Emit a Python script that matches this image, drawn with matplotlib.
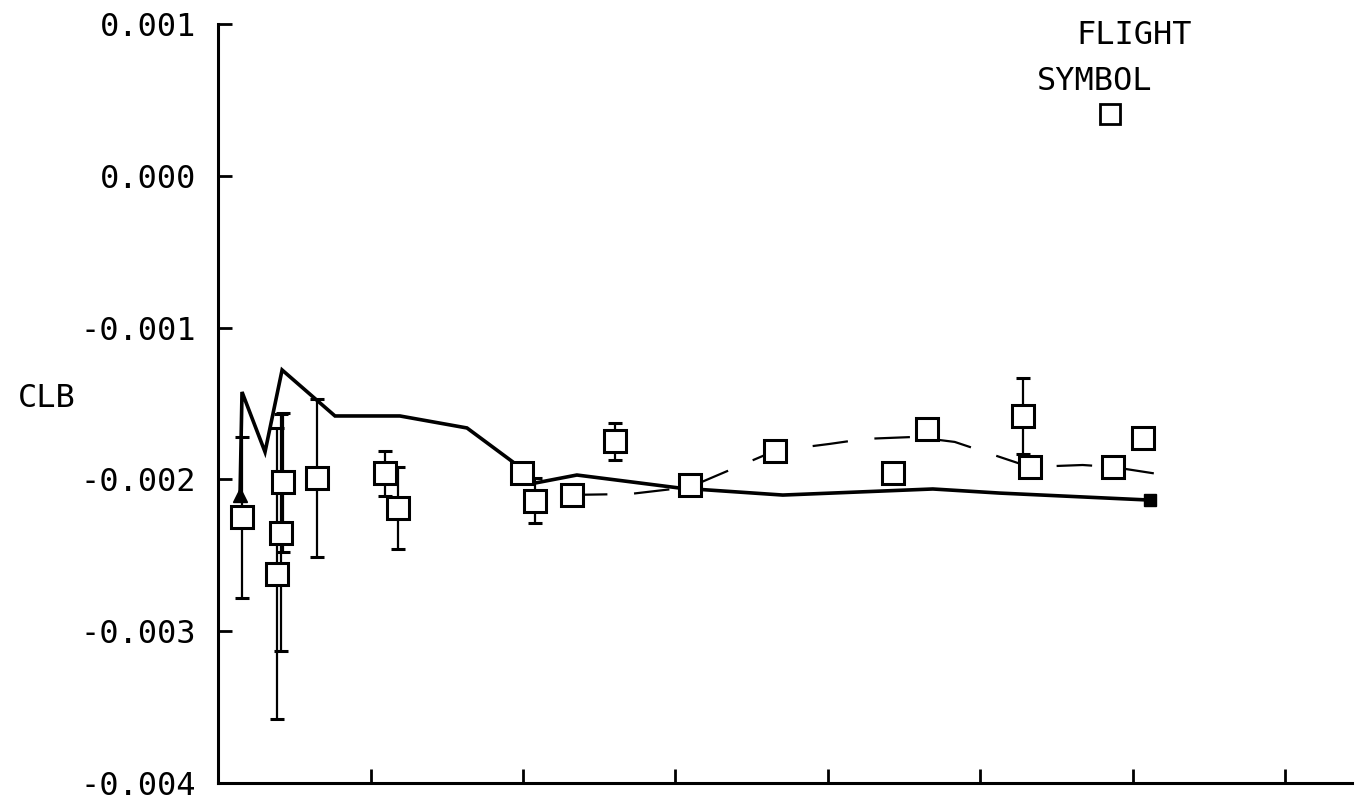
import numpy as np
import matplotlib
matplotlib.use("Agg")
import matplotlib.pyplot as plt

# flight data points (x in tick units, no x labels on original)
pt_x = [0.157, 0.426, 0.413, 0.387, 0.649, 1.095, 1.180, 1.993, 2.079, 2.321,
        2.603, 3.095, 3.652, 4.426, 4.649, 5.279, 5.325, 5.869, 6.066]
pt_y = [-0.00225, -0.00202, -0.00235, -0.00262, -0.00199, -0.00196, -0.00219,
        -0.00196, -0.00214, -0.00210, -0.00175, -0.00204, -0.00181, -0.00196,
        -0.00167, -0.00158, -0.00192, -0.00192, -0.00173]
pt_err = [0.00053, 0.00046, 0.00078, 0.00096, 0.00052, 0.00015, 0.00027,
          0.00004, 0.00015, 0.00004, 0.00012, 0.00004, 0.00004, 0.00004,
          0.00004, 0.00025, 0.00004, 0.00004, 0.00004]

# solid curve
sol_x = [0.144, 0.157, 0.308, 0.420, 0.767, 1.193, 1.633, 1.934, 2.079,
         2.354, 3.030, 3.705, 4.689, 5.128, 6.111]
sol_y = [-0.002103, -0.001424, -0.001819, -0.001279, -0.001582, -0.001582,
         -0.001661, -0.001885, -0.002024, -0.001971, -0.002057, -0.002103,
         -0.002063, -0.002090, -0.002136]

# dashed curve
dash_x = [2.321, 2.702, 3.095, 3.652, 4.013, 4.243, 4.570, 4.833, 5.325,
          5.672, 5.869, 6.210]
dash_y = [-0.002102, -0.002096, -0.002050, -0.001812, -0.001766, -0.001733,
          -0.001720, -0.001753, -0.001918, -0.001905, -0.001918, -0.001971]

yticks = [0.001, 0.000, -0.001, -0.002, -0.003, -0.004]
ytick_labels = ["0.001", "0.000", "-0.001", "-0.002", "-0.003", "-0.004"]

plt.rcParams['font.family'] = ['DejaVu Sans Mono']

fig = plt.figure(figsize=(13.63, 8.02), dpi=100)
ax = fig.add_axes([0.160, 0.0237, 0.832, 0.9463])

ax.plot(sol_x, sol_y, color='black', lw=2.6, solid_joinstyle='miter')
ax.plot(sol_x[0], sol_y[0], marker='^', color='black', ms=10)
ax.plot(sol_x[-1], sol_y[-1], marker='s', color='black', ms=8)

ax.plot(dash_x, dash_y, color='black', lw=1.6, dashes=(16, 12))

ax.errorbar(pt_x, pt_y, yerr=pt_err, fmt='s', mfc='white', mec='black',
            mew=2.2, ms=16, ecolor='black', elinewidth=1.6, capsize=4.7,
            capthick=2.4, zorder=3)

ax.set_xlim(0, 7.44)
ax.set_ylim(-0.004, 0.001)
ax.set_xticks(range(0, 8))
ax.set_xticklabels([])
ax.set_yticks(yticks)
ax.set_yticklabels(ytick_labels, fontsize=23)

for s in ['top', 'right']:
    ax.spines[s].set_visible(False)
for s in ['left', 'bottom']:
    ax.spines[s].set_linewidth(2.2)
ax.tick_params(axis='both', direction='in', length=10, width=2)
ax.tick_params(axis='y', pad=16)

fig.text(18 / 1363, 1 - 398 / 802, "CLB", fontsize=23, ha='left', va='center')
fig.text(1134 / 1363, 1 - 35 / 802, "FLIGHT", fontsize=23, ha='center', va='center')
fig.text(1095 / 1363, 1 - 82 / 802, "SYMBOL", fontsize=23, ha='center', va='center')
ax.plot([5.85], [0.00041], marker='s', mfc='white', mec='black', mew=2,
        ms=14, clip_on=False)

fig.savefig("out.png", dpi=100)
